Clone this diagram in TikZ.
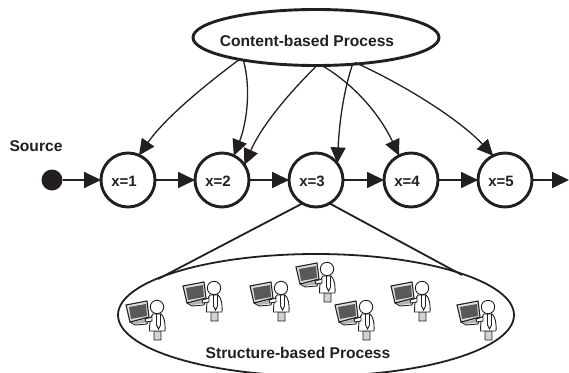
\documentclass[tikz,border=0pt]{standalone}
\usepackage{fontspec}
\setmainfont{Liberation Sans}
\usetikzlibrary{arrows.meta,shapes.geometric}
\definecolor{ink}{HTML}{231F20}
\tikzset{
  state/.style={circle,draw=ink,line width=2.9pt,fill=white,minimum size=54pt,inner sep=0pt,outer sep=0pt},
  flow/.style={draw=ink,line width=1.8pt,-{Triangle[length=17pt,width=16pt]}},
  influence/.style={draw=ink,line width=1.3pt,-{Triangle[length=16pt,width=15pt]}},
  blob/.style={ellipse,draw=ink,inner sep=0pt,outer sep=0pt},
  label/.style={font=\fontsize{15.6}{18}\selectfont\bfseries,text=ink},
  sel/.style={draw=ink,line width=0.9pt},
  pics/user/.style={code={
    \filldraw[sel,fill=white,rounded corners=.5pt] (-27,15) -- (-8,10) -- (-10,17) -- (-22,18) -- cycle;
    \fill[gray!60] (-25,15.5) -- (-10,11.5) -- (-11,15.5) -- (-22,17) -- cycle;
    \filldraw[draw=ink,line width=1.1pt,fill=gray!25] (-31,-2) -- (-10,-6) -- (-8,10) -- (-27,15) -- cycle;
    \fill[black!65] (-28,0) -- (-11,-3) -- (-10,9) -- (-26,12) -- cycle;
    \filldraw[sel,fill=gray!35] (-3,24) -- (-3,32) [rounded corners=.5pt] -- (-3,33) -- (4,33) [sharp corners] -- (4,24) -- cycle;
    \filldraw[sel,fill=white] (-4,7) .. controls (-6,9) and (-7.5,14) .. (-7.5,24) -- (8,24) .. controls (8.5,16) and (7,9) .. (4,7) -- cycle;
    \filldraw[sel,fill=white] (-5,10) -- (-12,12) -- (-11,15) -- (-5,14) -- cycle;
    \filldraw[sel,fill=white] (-.5,7) -- (-.5,18) -- (1.5,22) -- (3.5,18) -- (3.5,7) -- cycle;
    \filldraw[sel,fill=white] (0,0) circle[radius=6.7];
  }},
}
\begin{document}
\begin{tikzpicture}[x=1pt,y=-1pt]
\useasboundingbox (0,0) rectangle (569,372);
\node[blob,line width=2.9pt,minimum width=246pt,minimum height=56pt,fill=white] (top) at (316,37.5) {};
\node[label] (toplabel) at (307,41) {Content-based Process};
\node[blob,line width=1.8pt,minimum width=396pt,minimum height=122pt] (bottom) at (316,315) {};
\node[circle,fill=ink,minimum size=21pt,inner sep=0pt] (src) at (52,180) {};
\node[label] (srclabel) at (36,146) {Source};
\foreach \n/\x/\t in {c1/128/1,c2/222/2,c3/316/3,c4/411/4,c5/505/5}{
  \node[state] (\n) at (\x,180) {};
  \node[label,font=\fontsize{15}{18}\selectfont\bfseries] (t\n) at (\x-4,181) {x=\t};
}
\coordinate (exit) at (569,180);
\coordinate (tl) at (158,279);
\coordinate (tr) at (462,275);
\coordinate (a0) at (240,59);
\coordinate (b0) at (243,59);
\coordinate (c0) at (317,65.5);
\coordinate (d0) at (353,63);
\coordinate (e0) at (322,65.5);
\coordinate (f0) at (355,62.5);
\path[flow] (src) -- (c1);
\path[flow] (c1) -- (c2);
\path[flow] (c2) -- (c3);
\path[flow] (c3) -- (c4);
\path[flow] (c4) -- (c5);
\path[flow] (c5) -- (exit);
\path[influence] (a0) .. controls (205,85) and (165,118) .. (c1.66);
\path[influence] (b0) .. controls (252,90) and (246,125) .. (c2.64);
\path[influence] (c0) .. controls (290,92) and (262,125) .. (c2.34);
\path[influence] (d0) .. controls (342,95) and (339,130) .. (c3.38);
\path[influence] (e0) .. controls (355,85) and (380,115) .. (c4.116);
\path[influence] (f0) .. controls (405,85) and (460,120) .. (c5.116);
\draw[ink,line width=1.8pt] (c3.240) -- (tl);
\draw[ink,line width=1.8pt] (c3.300) -- (tr);
\foreach \x/\y in {157/307,214/288,281/288,327/269,366/307,422/288,488/307}
  \pic at (\x,\y) {user};
\node[label] (bottomlabel) at (298,352.5) {Structure-based Process};
\end{tikzpicture}
\end{document}
